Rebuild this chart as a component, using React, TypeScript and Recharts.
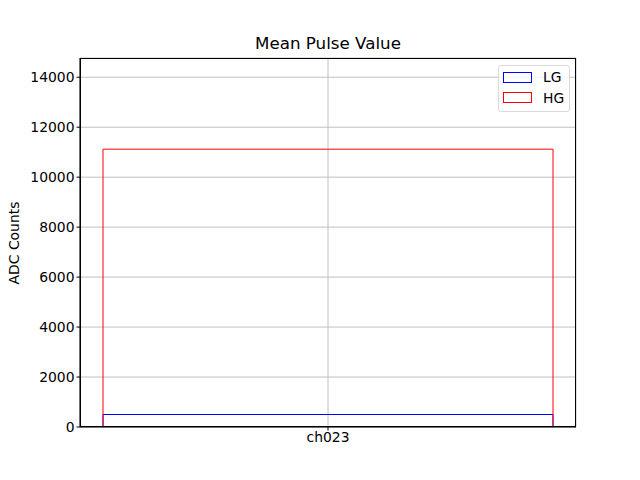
import { BarChart, Bar, XAxis, YAxis, CartesianGrid } from 'recharts'

// Mean pulse per channel, low gain / high gain
const channels = ['ch023']
const lgMeans = [500]
const hgMeans = [11120]
const yTicks = [0, 2000, 4000, 6000, 8000, 10000, 12000, 14000]

const data = channels.map((ch, i) => ({ ch, LG: lgMeans[i], HG: hgMeans[i] }))

const FONT = 'DejaVu Sans, sans-serif'

function LegendBox() {
  const items = [
    { name: 'LG', color: '#0000ff' },
    { name: 'HG', color: '#ff0000' },
  ]
  return (
    <div
      style={{
        position: 'absolute',
        left: 498,
        top: 65,
        width: 72,
        height: 47,
        border: '1px solid #d9d9d9',
        borderRadius: 3,
        background: 'rgba(255,255,255,0.8)',
        fontFamily: FONT,
        fontSize: 13.9,
        boxSizing: 'border-box',
        paddingTop: 1,
      }}
    >
      {items.map((it) => (
        <div key={it.name} style={{ display: 'flex', alignItems: 'center', height: 20.5, paddingLeft: 4 }}>
          <div style={{ width: 27, height: 9, border: `1px solid ${it.color}` }} />
          <span style={{ marginLeft: 11, color: '#000' }}>{it.name}</span>
        </div>
      ))}
    </div>
  )
}

export default function App() {
  return (
    <div style={{ position: 'absolute', left: 0, top: 0, width: 640, height: 480, background: '#fff' }}>
      <div
        style={{
          position: 'absolute', top: 33, left: 80, width: 496, textAlign: 'center',
          fontFamily: FONT, fontSize: 16.7, color: '#000',
        }}
      >
        Mean Pulse Value
      </div>
      <div
        style={{
          position: 'absolute', left: 14, top: 243, transform: 'translate(-50%, -50%) rotate(-90deg)',
          fontFamily: FONT, fontSize: 13.9, whiteSpace: 'nowrap', color: '#000',
        }}
      >
        ADC Counts
      </div>
      <BarChart
        width={640}
        height={480}
        data={data}
        margin={{ top: 58, right: 64, bottom: 23, left: 20 }}
        barCategoryGap={23}
      >
        <CartesianGrid stroke="#b0b0b0" strokeWidth={0.8} />
        <XAxis
          dataKey="ch"
          xAxisId="lg"
          height={30}
          stroke="#000"
          tickSize={3.5}
          tick={{ fill: '#000', fontSize: 13.9, fontFamily: FONT }}
        />
        <XAxis dataKey="ch" xAxisId="hg" hide height={0} />
        <YAxis
          domain={[0, 14770]}
          ticks={yTicks}
          width={60}
          stroke="#000"
          tickSize={3.5}
          allowDataOverflow
          tick={{ fill: '#000', fontSize: 13.9, fontFamily: FONT }}
        />
        <Bar dataKey="LG" xAxisId="lg" fill="none" stroke="#0000ff" strokeWidth={1} isAnimationActive={false} />
        <Bar dataKey="HG" xAxisId="hg" fill="none" stroke="#ff0000" strokeWidth={1} isAnimationActive={false} />
      </BarChart>
      {/* axes frame (top/right spines) */}
      <div
        style={{
          position: 'absolute', left: 80, top: 58, width: 496, height: 369,
          border: '1px solid #000', boxSizing: 'border-box', pointerEvents: 'none',
        }}
      />
      <LegendBox />
    </div>
  )
}
